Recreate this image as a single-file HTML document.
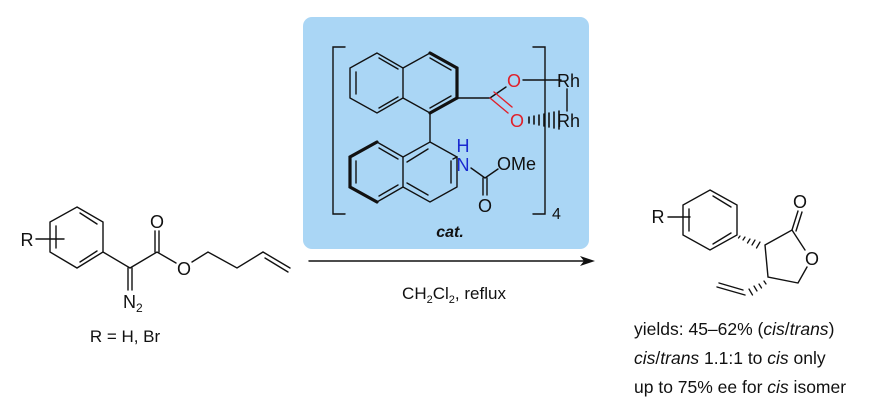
<!DOCTYPE html>
<html><head><meta charset="utf-8"><style>
html,body{margin:0;padding:0;background:#fff}
svg{display:block}
text{font-family:"Liberation Sans",sans-serif;fill:#111}
</style></head><body>
<svg width="875" height="415" viewBox="0 0 875 415" xmlns="http://www.w3.org/2000/svg">
<rect x="303" y="17" width="286" height="232" rx="9" fill="#aad6f5"/>
<g stroke="#111" stroke-width="1.4" fill="none" stroke-linecap="round">
<path d="M345 47 H333 V214 H345"/>
<path d="M533 47 H545 V214 H533"/>
<path d="M377 53 L350 68 L350 98 L377 113 L403 98 L403 68 Z"/>
<path d="M403 68 L430 53 L457 68 L457 98 L430 113 L403 98"/>
<path d="M356 72 L356 94 M379 58 L398 69 M379 108 L398 97 M430 58 L451 70 M430 108 L451 96"/>
<path d="M430 53 L457 68 M457 68 L457 98 M457 98 L430 113" stroke-width="3.2"/>
<path d="M430 113 L430 142"/>
<path d="M457 98 L490 98 L506 87"/>
<path d="M490 98 L508 113" stroke="#e0202a"/>
<path d="M494 92 L512 107" stroke="#e0202a"/>
<path d="M523 80 H561 M567 89 V111"/>
<path d="M529 117v6 M534 116v8 M539 115v10 M544 114v12 M549 113v14 M554 112v16 M559 111v18" stroke-width="1.6"/>
<path d="M430 142 L457 157 L457 187 L430 202 L403 187 L403 157 Z"/>
<path d="M403 157 L377 142 L350 157 L350 187 L377 202 L403 187"/>
<path d="M377 142 L350 157 L350 187 L377 202" stroke-width="3.2"/>
<path d="M407 162 L428 149 M451 161 L451 183 M407 183 L428 195 M379 148 L398 159 M356 161 L356 183 M379 196 L398 185"/>
<path d="M457 157 L453 159"/>
<path d="M471 168 L485 178 L498 169 M483 178 V195 M487 178 V195"/>
<path d="M77 207 L103 222 L103 252 L77 268 L50 252 L50 222 Z"/>
<path d="M56 226 L56 248 M80 213 L97 224 M80 262 L97 251"/>
<path d="M36 239 H64"/>
<path d="M103 252 L130 268 L157 252 L176 263 M192 262 L208 252 L237 268 L263 252 L290 268"/>
<path d="M155 252 V231 M159 252 V231"/>
<path d="M128 268 V290 M132 268 V290"/>
<path d="M265 258 L288 272"/>
<path d="M309 261 H585"/>
<path d="M710 190 L737 205 L737 235 L710 250 L683 235 L683 205 Z"/>
<path d="M689 209 L689 231 M713 196 L731 207 M713 244 L731 233"/>
<path d="M668 217 H690"/>
<path d="M765 245 L792 230 L805 250 M807 267 L798 283 L768 277 L765 245"/>
<path d="M792 230 L798 211 M796 231 L802 212"/>
<path d="M745 295 L717 287 M743 290 L719 283"/>
<path d="M740 236 l-1.5 2 M745 237 l-2 3 M750 239 l-2.5 4 M755 240 l-3 5 M760 242 l-3.5 6" stroke-width="1.3"/>
<path d="M764 281 l2 3 M759 284 l2.5 4 M754 286 l3 5 M749 289 l3.5 6" stroke-width="1.3"/>
</g>
<polygon points="595,261 580,256 584,261 580,266" fill="#111"/>
<g font-size="18">
<text x="514" y="87" text-anchor="middle" style="fill:#e0202a">O</text>
<text x="517" y="127" text-anchor="middle" style="fill:#e0202a">O</text>
<text x="557" y="87">Rh</text>
<text x="557" y="127">Rh</text>
<text x="463" y="152" text-anchor="middle" style="fill:#1a2ad0">H</text>
<text x="463" y="171" text-anchor="middle" style="fill:#1a2ad0">N</text>
<text x="497" y="170">OMe</text>
<text x="485" y="212" text-anchor="middle">O</text>
<text x="552" y="219" font-size="16">4</text>
<text x="450" y="237" text-anchor="middle" font-size="16" font-weight="bold" font-style="italic">cat.</text>
<text x="27" y="246" text-anchor="middle">R</text>
<text x="157" y="228" text-anchor="middle">O</text>
<text x="184" y="275" text-anchor="middle">O</text>
<text x="123" y="308">N<tspan font-size="12" dy="4">2</tspan></text>
<text x="125" y="342" text-anchor="middle" font-size="17">R = H, Br</text>
<text x="454" y="299" text-anchor="middle" font-size="17">CH<tspan font-size="11" dy="4">2</tspan><tspan dy="-4">Cl</tspan><tspan font-size="11" dy="4">2</tspan><tspan dy="-4">, reflux</tspan></text>
<text x="658" y="223" text-anchor="middle">R</text>
<text x="800" y="208" text-anchor="middle">O</text>
<text x="812" y="265" text-anchor="middle">O</text>
<g font-size="17.5">
<text x="634" y="335">yields: 45–62% (<tspan font-style="italic">cis</tspan>/<tspan font-style="italic">trans</tspan>)</text>
<text x="634" y="364"><tspan font-style="italic">cis</tspan>/<tspan font-style="italic">trans</tspan>  1.1:1 to <tspan font-style="italic">cis</tspan> only</text>
<text x="634" y="393">up to 75% ee for <tspan font-style="italic">cis</tspan> isomer</text>
</g>
</g>
</svg>
</body></html>
